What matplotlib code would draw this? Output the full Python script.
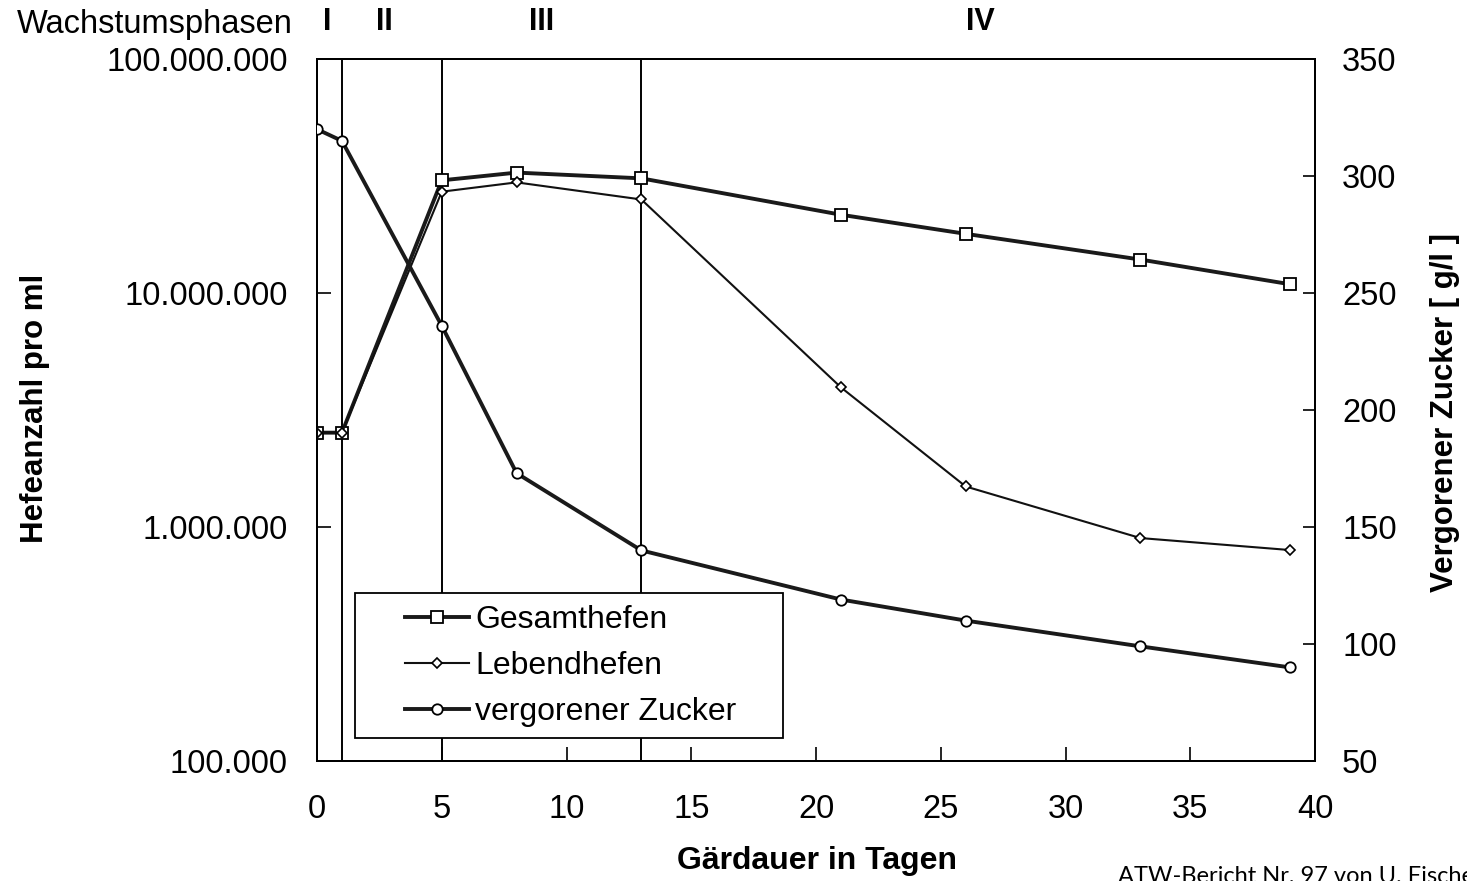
import matplotlib
matplotlib.use("Agg")
import matplotlib.pyplot as plt
from matplotlib.ticker import FixedLocator, NullLocator, FuncFormatter
from matplotlib.patches import Rectangle

plt.rcParams['font.family'] = ['Liberation Sans', 'DejaVu Sans']

# ---- data ----
days = [0, 1, 5, 8, 13, 21, 26, 33, 39]
gesamthefen = [2.53e6, 2.53e6, 3.03e7, 3.27e7, 3.09e7, 2.16e7, 1.79e7, 1.39e7, 1.09e7]
lebendhefen = [2.53e6, 2.53e6, 2.71e7, 2.97e7, 2.51e7, 3.95e6, 1.49e6, 8.97e5, 7.97e5]
zucker = [320, 315, 236, 173, 140, 119, 110, 99, 90]

phase_bounds = [1, 5, 13]
phase_labels = ["I", "II", "III", "IV"]
phase_label_x = [0.4, 2.7, 9.0, 26.6]

left_ticks = [1e5, 1e6, 1e7, 1e8]
right_ticks = [50, 100, 150, 200, 250, 300, 350]
x_ticks = [0, 5, 10, 15, 20, 25, 30, 35, 40]

W, H = 1467, 881
AX_L, AX_R, AX_T, AX_B = 317, 1315, 59, 761
AW, AH = AX_R - AX_L, AX_B - AX_T

fig = plt.figure(figsize=(W / 100, H / 100), dpi=100)
ax = fig.add_axes([AX_L / W, 1 - AX_B / H, AW / W, AH / H])
ax2 = ax.twinx()

ax.set_yscale('log')
ax.set_ylim(1e5, 1e8)
ax.set_xlim(0, 40)
ax2.set_ylim(50, 350)

def dotfmt(v, pos):
    return f"{int(round(v)):,}".replace(",", ".")

ax.yaxis.set_major_locator(FixedLocator(left_ticks))
ax.yaxis.set_minor_locator(NullLocator())
ax.yaxis.set_major_formatter(FuncFormatter(dotfmt))
ax.xaxis.set_major_locator(FixedLocator(x_ticks))
ax2.yaxis.set_major_locator(FixedLocator(right_ticks))

ax.tick_params(axis='both', direction='in', length=10, width=1.2, labelsize=23.5, colors='black')
ax.tick_params(axis='y', pad=21)
ax.tick_params(axis='x', pad=24)
ax2.tick_params(axis='y', direction='in', length=9, width=1.2, labelsize=23.5, pad=19.5)

for a in (ax, ax2):
    for s in a.spines.values():
        s.set_linewidth(1.4)
        s.set_color('black')

for xb in phase_bounds:
    ax.axvline(xb, color='black', lw=1.4, zorder=1)

l1, = ax.plot(days, gesamthefen, color='#1a1a1a', lw=2.8, marker='s', ms=8,
              mfc='white', mec='black', mew=1.3, zorder=4)
l2, = ax.plot(days, lebendhefen, color='#111111', lw=1.5, marker='D', ms=5.5,
              mfc='white', mec='black', mew=1.2, zorder=5)
l3, = ax2.plot(days, zucker, color='#1a1a1a', lw=2.8, marker='o', ms=7.5,
               mfc='white', mec='black', mew=1.3, zorder=4)

ax.set_ylabel("Hefeanzahl pro ml", fontsize=22.5, fontweight='bold')
ax.yaxis.set_label_coords((35 - AX_L) / AW, (AX_B - 408) / AH)
ax.yaxis.label.set_verticalalignment('center')
ax.yaxis.label.set_horizontalalignment('center')

ax2.set_ylabel("Vergorener Zucker [ g/l ]", fontsize=22.5, fontweight='bold', rotation=90)
ax2.yaxis.set_label_coords((1445 - AX_L) / AW, (AX_B - 412) / AH)
ax2.yaxis.label.set_verticalalignment('center')
ax2.yaxis.label.set_horizontalalignment('center')

ax.set_xlabel("Gärdauer in Tagen", fontsize=23, fontweight='bold')
ax.xaxis.set_label_coords((817 - AX_L) / AW, -(861 - AX_B) / AH)
ax.xaxis.label.set_verticalalignment('center')

# phase labels
for lab, px in zip(phase_labels, phase_label_x):
    ax.text(px, 1e8 * 10 ** (37 / 233), lab, ha='center', va='center',
            fontsize=22, fontweight='bold')
fig.text(293 / W, 1 - 24 / H, "Wachstumsphasen", ha='right', va='center', fontsize=23.5)

# legend
box = Rectangle(((355 - AX_L) / AW, (AX_B - 738) / AH), 428 / AW, 145 / AH,
                transform=ax.transAxes, facecolor='white', edgecolor='black',
                lw=1.3, zorder=6)
ax.add_patch(box)
leg = ax.legend([l1, l2, l3], ["Gesamthefen", "Lebendhefen", "vergorener Zucker"],
                loc='center left', bbox_to_anchor=((405 - AX_L) / AW, (AX_B - 666) / AH),
                frameon=False, fontsize=23, handlelength=2.0, handletextpad=0.2,
                labelspacing=0.5, borderpad=0, borderaxespad=0)
leg.set_zorder(7)

fig.text(1118 / W, 1 - 866 / H, "ATW-Bericht Nr. 97 von U. Fischer", ha='left', va='top',
         fontsize=17, family=['Lato', 'DejaVu Sans'])

fig.savefig("out.png", dpi=100)
